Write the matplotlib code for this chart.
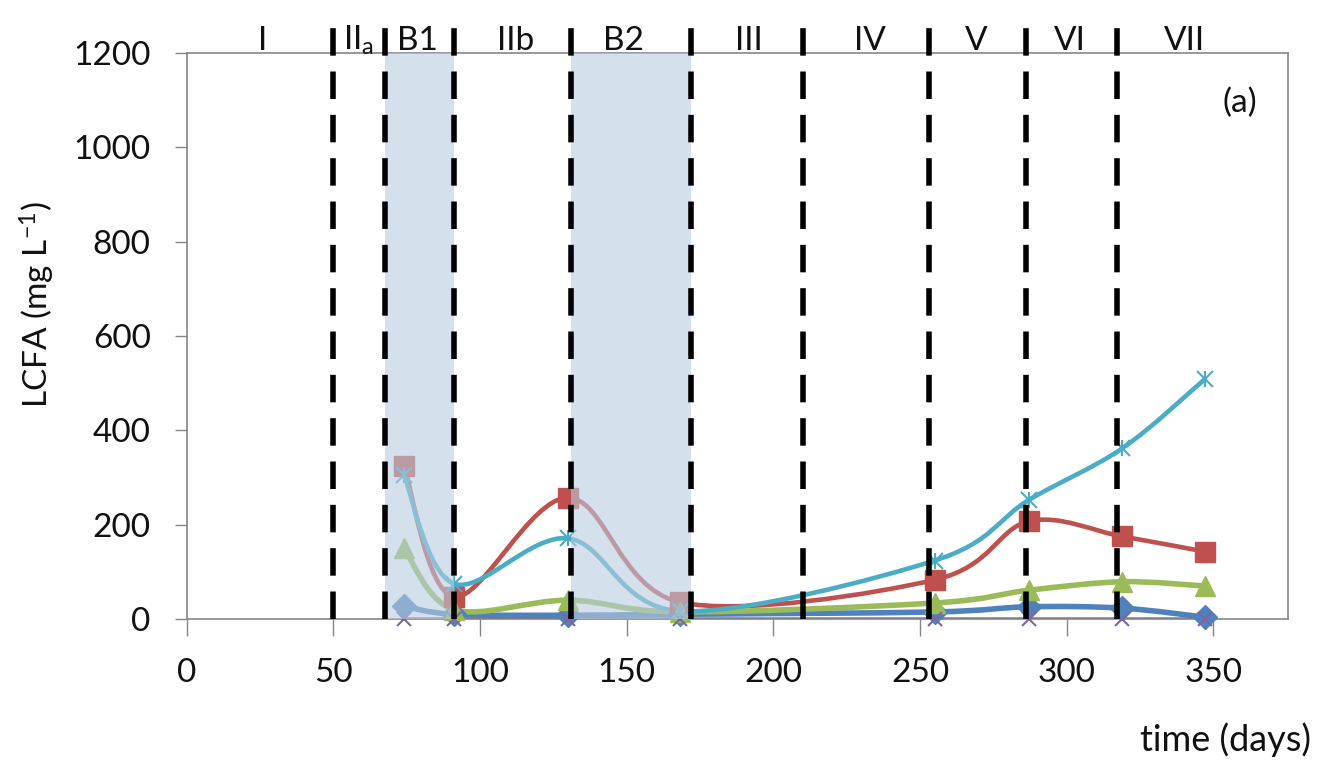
import numpy as np
import matplotlib.pyplot as plt
from matplotlib.path import Path
from matplotlib.patches import PathPatch

plt.rcParams['font.family'] = ['Lato', 'DejaVu Sans']
plt.rcParams['mathtext.fontset'] = 'custom'
plt.rcParams['mathtext.rm'] = 'Lato'
plt.rcParams['mathtext.it'] = 'Lato:italic'

# sampling days and LCFA concentrations (mg/L)
days = [74, 91, 130, 168, 255, 287, 319, 347]
blue = [27, 10, 8, 10, 15, 26, 23, 4]
red = [325, 47, 257, 36, 83, 207, 175, 143]
green = [150, 20, 40, 15, 34, 61, 79, 70]
purple = [0, 0, 0, 0, 0, 0, 0, 0]
cyan = [305, 75, 171, 17, 124, 252, 362, 508]

# operating periods
boundaries = [50, 67.5, 91, 131, 172, 210, 253, 286, 317]
periods = ['I', r'II$_{\mathrm{a}}$', 'B1', 'IIb', 'B2', 'III', 'IV', 'V', 'VI', 'VII']
period_x = [26, 58.5, 78.5, 112, 149, 191.5, 233, 269, 301, 340]
shaded = [(67.5, 91), (131, 172)]

TXT = '#111111'


def smooth_path(x, y):
    # bezier curve through the points, like a spreadsheet "smoothed line"
    pts = np.column_stack([x, y]).astype(float)
    n = len(pts)
    verts = [pts[0]]
    codes = [Path.MOVETO]
    for i in range(n - 1):
        p0 = pts[max(i - 1, 0)]
        p1 = pts[i]
        p2 = pts[i + 1]
        p3 = pts[min(i + 2, n - 1)]
        verts += [p1 + (p2 - p0) / 6, p2 - (p3 - p1) / 6, p2]
        codes += [Path.CURVE4] * 3
    return Path(verts, codes)


fig = plt.figure(figsize=(13.35, 7.6), dpi=100)
ax = fig.add_axes([0.1399, 0.1855, 0.825, 0.7448])

series = [
    (blue, '#4F81BD', 'D', 12, 4),
    (red, '#C0504D', 's', 14, 3.3),
    (green, '#9BBB59', '^', 14, 4),
    (purple, '#8064A2', 'x', 10, 2.5),
    (cyan, '#4BACC6', 'x', 11, 3.3),
]
for vals, col, mk, ms, lw in series:
    ax.add_patch(PathPatch(smooth_path(days, vals), facecolor='none',
                           edgecolor=col, lw=lw, zorder=2))
    if mk == 'x':
        ax.plot(days, vals, ls='none', marker='x', ms=ms, mew=1.5,
                color=col, zorder=3, clip_on=False)
    else:
        ax.plot(days, vals, ls='none', marker=mk, ms=ms, color=col,
                zorder=3, clip_on=False)
# star marker of the last series
ax.plot(days, cyan, ls='none', marker='|', ms=12, mew=1.5, color='#4BACC6',
        zorder=3)

for x0, x1 in shaded:
    ax.axvspan(x0, x1, color='#b8cce0', alpha=0.6, lw=0, zorder=4)

for b in boundaries:
    ax.plot([b, b], [0, 1253], color='black', lw=4, dashes=(4.95, 2.85),
            zorder=5, clip_on=False)

for lab, px in zip(periods, period_x):
    ax.text(px, 1206, lab, ha='center', va='baseline', fontsize=24,
            color=TXT, clip_on=False)

ax.text(359, 1094, '(a)', ha='center', va='center', fontsize=24, color=TXT)

ax.set_xlim(0, 375.5)
ax.set_ylim(0, 1200)
ax.set_xticks(np.arange(0, 351, 50))
ax.set_yticks(np.arange(0, 1201, 200))
ax.tick_params(axis='x', length=12, width=1, color='#868686', pad=16,
               labelsize=24, labelcolor=TXT)
ax.tick_params(axis='y', length=9, width=1, color='#868686', pad=17,
               labelsize=24, labelcolor=TXT)
for s in ax.spines.values():
    s.set_color('#868686')
    s.set_linewidth(1.2)

fig.text(37 / 1335, 1 - 305 / 760, r'LCFA (mg L$^{\mathrm{-1}}$)',
         rotation=90, ha='center', va='center', fontsize=24, color=TXT)
fig.text(1226 / 1335, 1 - 740 / 760, 'time (days)', ha='center',
         va='center', fontsize=26, color=TXT)

fig.savefig('out.png', dpi=100)
